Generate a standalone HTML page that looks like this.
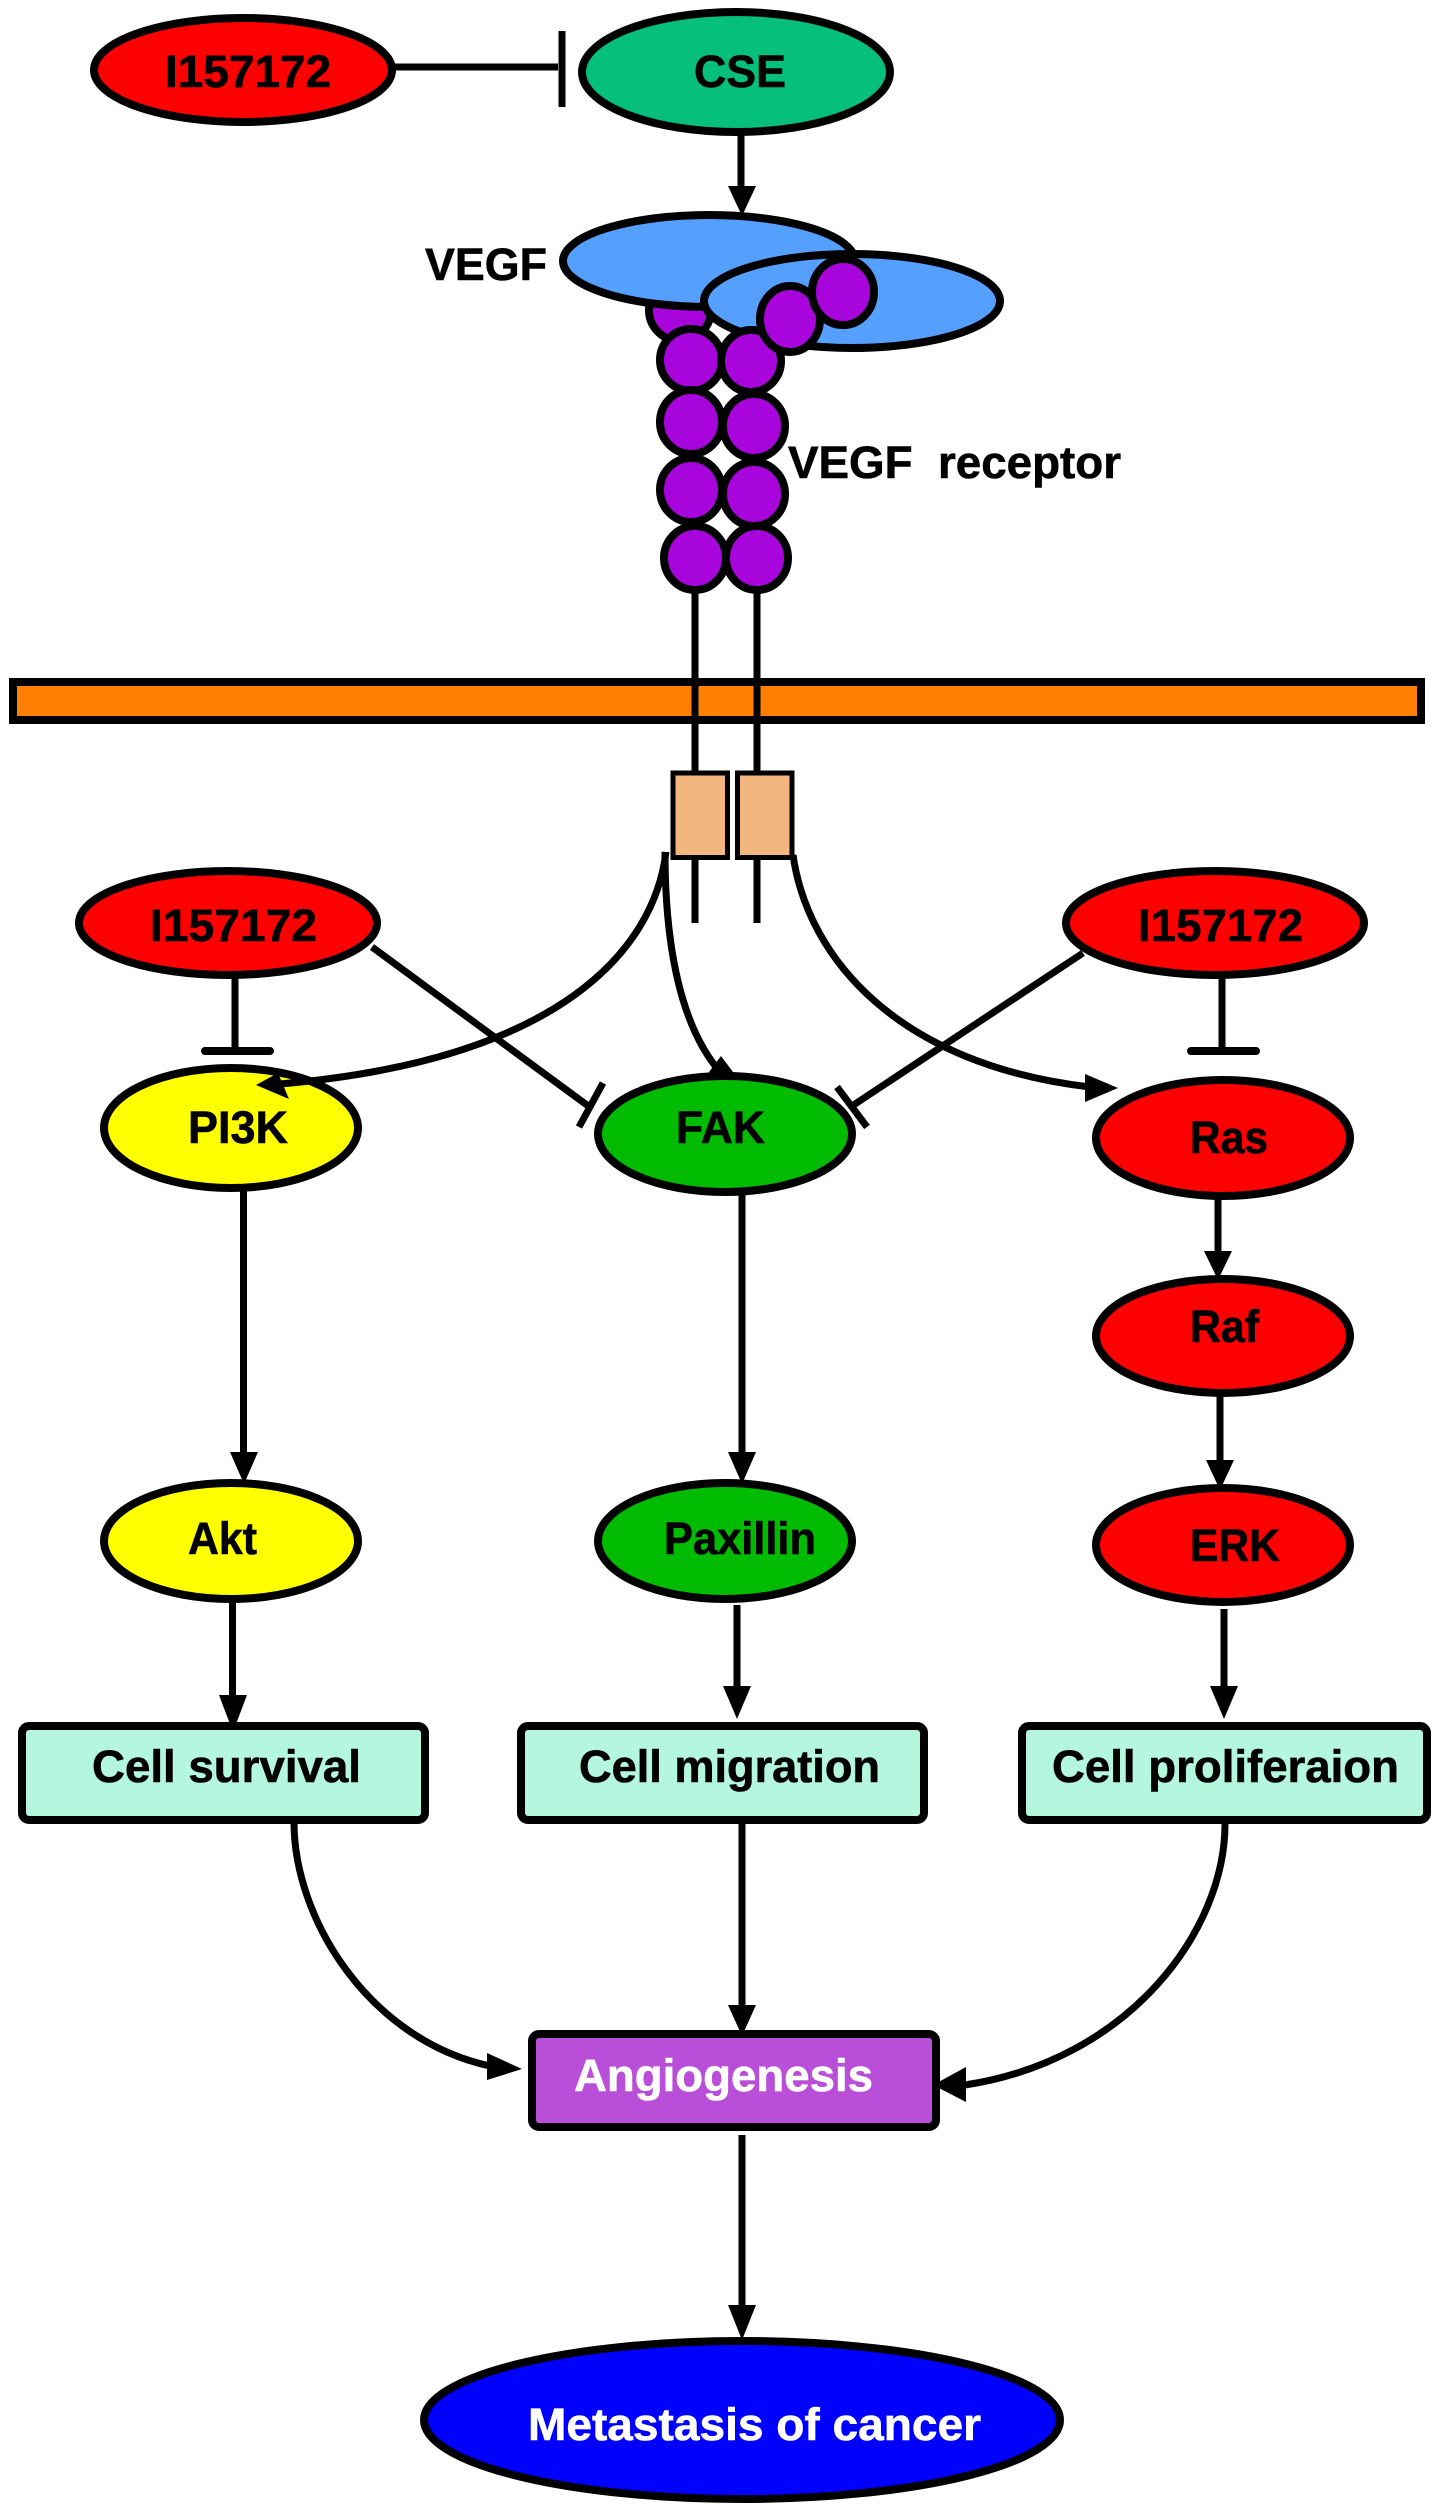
<!DOCTYPE html>
<html>
<head>
<meta charset="utf-8">
<style>
html,body{margin:0;padding:0;background:#fff;width:1441px;height:2513px;overflow:hidden}
svg{display:block}
text{font-family:"Liberation Sans",sans-serif;font-weight:bold;fill:#000;stroke:#000;stroke-width:.6;font-size:45px}
.w{fill:#fff;stroke:#fff}
.s{stroke:#000;stroke-width:8;}
.l{stroke:#000;stroke-width:7;fill:none;}
</style>
</head>
<body>
<svg width="1441" height="2513" viewBox="0 0 1441 2513" xmlns="http://www.w3.org/2000/svg">
<rect width="1441" height="2513" fill="#fff"/>

<!-- Top -->
<line class="l" x1="393" y1="67" x2="558" y2="67"/>
<line class="l" x1="562" y1="31" x2="562" y2="107"/>
<ellipse class="s" cx="243" cy="70" rx="149" ry="52" fill="#ff0000"/>
<ellipse class="s" cx="736" cy="72" rx="154" ry="60" fill="#05bf7b"/>
<line class="l" x1="741" y1="134" x2="741" y2="190"/>
<polygon points="728,186 756,186 742,216"/>

<!-- Stems -->
<line class="l" x1="695" y1="590" x2="695" y2="772"/>
<line class="l" x1="757" y1="590" x2="757" y2="772"/>

<!-- Membrane -->
<rect class="s" x="13" y="682" width="1408" height="38" fill="#ff8000"/>
<line class="l" x1="695" y1="678" x2="695" y2="724"/>
<line class="l" x1="757" y1="678" x2="757" y2="724"/>

<!-- Receptor beads -->
<ellipse class="s" cx="680" cy="310" rx="31" ry="31" fill="#a805dd"/>
<ellipse class="s" cx="709" cy="261" rx="146" ry="46" fill="#559fff"/>
<ellipse class="s" cx="852" cy="301" rx="148" ry="47" fill="#559fff"/>
<ellipse class="s" cx="691" cy="360" rx="31" ry="31" fill="#a805dd"/>
<ellipse class="s" cx="751" cy="361" rx="30" ry="31" fill="#a805dd"/>
<ellipse class="s" cx="691" cy="422" rx="31" ry="32" fill="#a805dd"/>
<ellipse class="s" cx="754" cy="426" rx="31" ry="32" fill="#a805dd"/>
<ellipse class="s" cx="691" cy="490" rx="31" ry="32" fill="#a805dd"/>
<ellipse class="s" cx="754" cy="494" rx="31" ry="32" fill="#a805dd"/>
<ellipse class="s" cx="695" cy="558" rx="31" ry="32" fill="#a805dd"/>
<ellipse class="s" cx="757" cy="558" rx="31" ry="32" fill="#a805dd"/>
<ellipse class="s" cx="790" cy="319" rx="30" ry="33" fill="#a805dd"/>
<ellipse class="s" cx="843" cy="292" rx="31" ry="33" fill="#a805dd"/>

<text x="425" y="280" textLength="122" lengthAdjust="spacingAndGlyphs">VEGF</text>
<text x="788" y="478" textLength="333" lengthAdjust="spacingAndGlyphs" xml:space="preserve">VEGF  receptor</text>

<!-- Kinase domains -->
<rect x="673" y="773" width="54.500" height="84.500" fill="#f3b67f" stroke="#000" stroke-width="5"/>
<rect x="737.500" y="773" width="54.500" height="84.500" fill="#f3b67f" stroke="#000" stroke-width="5"/>
<line class="l" x1="695" y1="857" x2="695" y2="923"/>
<line class="l" x1="757" y1="857" x2="757" y2="923"/>

<!-- Curves from kinase -->
<path class="l" d="M665 852 C665 950 682 1030 722 1074"/>
<path class="l" d="M793 855 C808 960 900 1065 1090 1087"/>
<polygon points="721,1056 706,1076 742,1084"/>
<polygon points="1118,1088 1085,1074 1085,1102"/>

<!-- Inhibitors -->
<line class="l" x1="235" y1="976" x2="235" y2="1051"/>
<line x1="205" y1="1051" x2="270" y2="1051" stroke="#000" stroke-width="8" stroke-linecap="round"/>
<line class="l" x1="1222" y1="976" x2="1222" y2="1051"/>
<line x1="1191" y1="1051" x2="1256" y2="1051" stroke="#000" stroke-width="8" stroke-linecap="round"/>
<line class="l" x1="372" y1="947" x2="591" y2="1108"/>
<line class="l" x1="603" y1="1083" x2="579" y2="1127"/>
<line class="l" x1="1083" y1="953" x2="852" y2="1106"/>
<line class="l" x1="837" y1="1087" x2="867" y2="1127"/>

<ellipse class="s" cx="228" cy="923" rx="149" ry="52" fill="#ff0000"/>
<ellipse class="s" cx="1215" cy="923" rx="149" ry="52" fill="#ff0000"/>

<!-- Vertical arrows -->
<line class="l" x1="243.500" y1="1186" x2="243.500" y2="1456"/>
<polygon points="230,1452 258,1452 244,1484"/>
<line class="l" x1="742" y1="1190" x2="742" y2="1456"/>
<polygon points="728,1452 756,1452 742,1484"/>
<line class="l" x1="1218" y1="1194" x2="1218" y2="1255"/>
<polygon points="1204,1251 1232,1251 1218,1280"/>
<line class="l" x1="1220" y1="1390" x2="1220" y2="1464"/>
<polygon points="1206,1460 1234,1460 1220,1490"/>
<line class="l" x1="232.500" y1="1598" x2="232.500" y2="1700"/>
<polygon points="219,1695 247,1695 233,1732"/>
<line class="l" x1="737" y1="1605" x2="737" y2="1690"/>
<polygon points="723,1686 751,1686 737,1719"/>
<line class="l" x1="1224" y1="1609" x2="1224" y2="1690"/>
<polygon points="1210,1686 1238,1686 1224,1719"/>

<!-- Pathway nodes -->
<ellipse class="s" cx="231" cy="1128" rx="127" ry="60" fill="#ffff00"/>
<ellipse class="s" cx="725" cy="1134" rx="127" ry="58" fill="#00bb00"/>
<ellipse class="s" cx="1223" cy="1138" rx="127" ry="58" fill="#ff0000"/>
<ellipse class="s" cx="1223" cy="1336" rx="127" ry="57" fill="#ff0000"/>
<ellipse class="s" cx="1223" cy="1545" rx="127" ry="57" fill="#ff0000"/>
<ellipse class="s" cx="231" cy="1541" rx="127" ry="58" fill="#ffff00"/>
<ellipse class="s" cx="725" cy="1541" rx="127" ry="58" fill="#00bb00"/>

<!-- PI3K curve on top of ellipse -->
<path class="l" d="M666 852 C654 950 560 1060 280 1084"/>
<polygon points="256,1085 289,1099 278,1073"/>

<!-- Boxes -->
<rect class="s" x="22" y="1726" width="403" height="94" rx="7" fill="#b4f6de"/>
<rect class="s" x="521" y="1726" width="403" height="94" rx="7" fill="#b4f6de"/>
<rect class="s" x="1022" y="1726" width="405" height="94" rx="7" fill="#b4f6de"/>

<!-- Bottom curves -->
<path class="l" d="M294 1822 C294 1920 370 2040 490 2066"/>
<polygon points="522,2069 487,2053 487,2080"/>
<path class="l" d="M1225 1824 C1225 1930 1130 2060 965 2085"/>
<polygon points="933,2085 966,2067 966,2102"/>
<line class="l" x1="742" y1="1820" x2="742" y2="2010"/>
<polygon points="728,2005 756,2005 742,2036"/>
<line class="l" x1="742" y1="2135" x2="742" y2="2310"/>
<polygon points="728,2305 756,2305 742,2340"/>

<rect class="s" x="532" y="2034" width="404" height="93" rx="7" fill="#b94fd8"/>
<ellipse class="s" cx="742" cy="2420" rx="318" ry="79" fill="#0000ff"/>

<!-- Labels -->
<text x="165" y="87" textLength="166" lengthAdjust="spacingAndGlyphs">I157172</text>
<text x="694" y="87" textLength="92" lengthAdjust="spacingAndGlyphs">CSE</text>
<text x="150" y="941" textLength="167" lengthAdjust="spacingAndGlyphs">I157172</text>
<text x="1138" y="941" textLength="165" lengthAdjust="spacingAndGlyphs">I157172</text>
<text x="188" y="1143" textLength="100" lengthAdjust="spacingAndGlyphs">PI3K</text>
<text x="676" y="1143" textLength="89" lengthAdjust="spacingAndGlyphs">FAK</text>
<text x="1190" y="1153" textLength="78" lengthAdjust="spacingAndGlyphs">Ras</text>
<text x="1190" y="1342" textLength="69" lengthAdjust="spacingAndGlyphs">Raf</text>
<text x="1190" y="1561" textLength="90" lengthAdjust="spacingAndGlyphs">ERK</text>
<text x="188" y="1554" textLength="69" lengthAdjust="spacingAndGlyphs">Akt</text>
<text x="664" y="1554" textLength="152" lengthAdjust="spacingAndGlyphs">Paxillin</text>
<text x="92" y="1782" textLength="269" lengthAdjust="spacingAndGlyphs">Cell survival</text>
<text x="579" y="1782" textLength="301" lengthAdjust="spacingAndGlyphs">Cell migration</text>
<text x="1052" y="1782" textLength="347" lengthAdjust="spacingAndGlyphs">Cell proliferaion</text>
<text class="w" x="574" y="2091" textLength="299" lengthAdjust="spacingAndGlyphs">Angiogenesis</text>
<text class="w" x="528" y="2440" textLength="453" lengthAdjust="spacingAndGlyphs">Metastasis of cancer</text>
</svg>
</body>
</html>
